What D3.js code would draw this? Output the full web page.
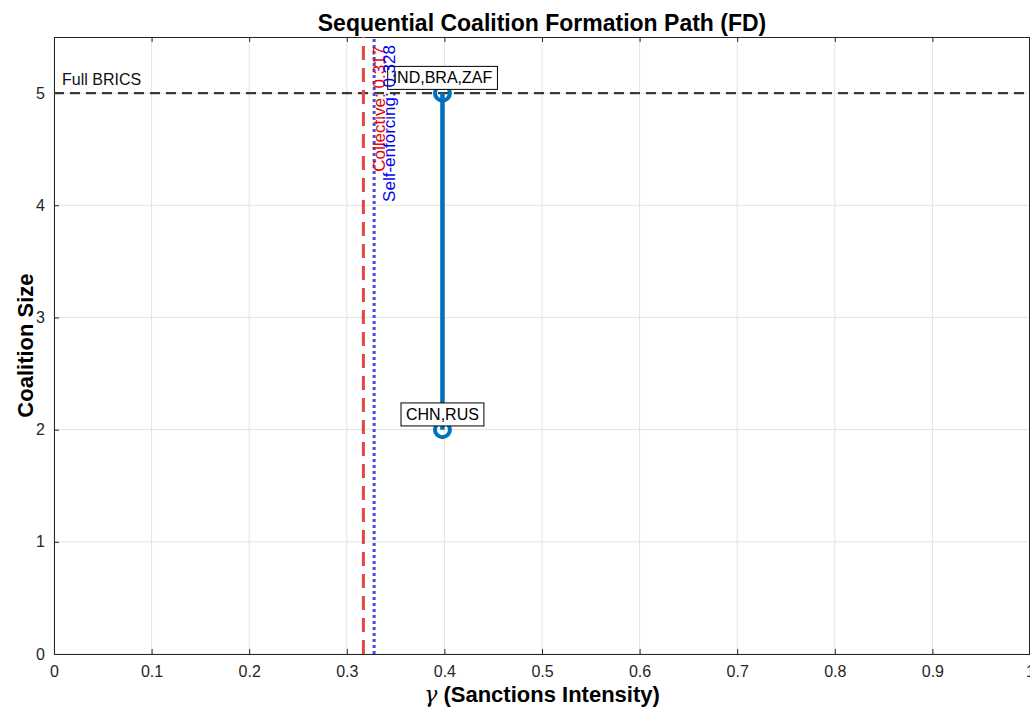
<!DOCTYPE html>
<html>
<head>
<meta charset="utf-8">
<script src="https://cdn.jsdelivr.net/npm/d3@7"></script>
<style>
  body { margin: 0; background: #fff; }
  svg { display: block; font-family: "Liberation Sans", Arial, sans-serif; }
</style>
</head>
<body>
<script>
// data
var pathGamma = [0.398, 0.398];
var pathSize = [2, 5];
var pathLabels = ["CHN,RUS", "IND,BRA,ZAF"];
var collectiveGamma = 0.317;
var selfEnforcingGamma = 0.328;
var fullSize = 5;
var xTicks = [0, 0.1, 0.2, 0.3, 0.4, 0.5, 0.6, 0.7, 0.8, 0.9, 1];
var yTicks = [0, 1, 2, 3, 4, 5];

var width = 1030, height = 711;
var margin = { left: 54, right: 0, top: 37, bottom: 57 };

var svg = d3.select("body").append("svg").attr("width", width).attr("height", height);

var x = d3.scaleLinear().domain([0, 1]).range([margin.left, 1030]);
var y = d3.scaleLinear().domain([0, 5.5]).range([height - margin.bottom, margin.top]);

var axisColor = "#262626";

// grid
var grid = svg.append("g");
grid.selectAll("line.gx").data(xTicks).enter().append("line")
  .attr("x1", d => x(d)).attr("x2", d => x(d))
  .attr("y1", y(0)).attr("y2", y(5.5))
  .attr("stroke", "#e3e3e3").attr("stroke-width", 1);
grid.selectAll("line.gy").data(yTicks).enter().append("line")
  .attr("x1", x(0)).attr("x2", x(1))
  .attr("y1", d => y(d)).attr("y2", d => y(d))
  .attr("stroke", "#e3e3e3").attr("stroke-width", 1);

// axes (ticks inward like matlab)
var xAxis = svg.append("g").attr("transform", "translate(0," + y(0) + ")")
  .call(d3.axisBottom(x).tickValues(xTicks).tickFormat(d3.format("")).tickSizeInner(-5).tickSizeOuter(0).tickPadding(12));
var yAxis = svg.append("g").attr("transform", "translate(" + x(0) + ",0)")
  .call(d3.axisLeft(y).tickValues(yTicks).tickFormat(d3.format("")).tickSizeInner(-5).tickSizeOuter(0).tickPadding(9));
var xTop = svg.append("g").attr("transform", "translate(0," + y(5.5) + ")")
  .call(d3.axisTop(x).tickValues(xTicks).tickSizeInner(-5).tickSizeOuter(0).tickFormat(""));
[xAxis, yAxis, xTop].forEach(function (g) {
  g.selectAll("path").attr("stroke", axisColor).attr("stroke-width", 1);
  g.selectAll("line").attr("stroke", axisColor);
  g.selectAll("text").attr("fill", axisColor).attr("font-size", 16)
    .attr("font-family", "Liberation Sans, Arial, sans-serif");
});
svg.append("line").attr("x1", x(1) - 0.5).attr("x2", x(1) - 0.5)
  .attr("y1", y(0)).attr("y2", y(5.5)).attr("stroke", axisColor);

// full BRICS reference line
svg.append("line")
  .attr("x1", x(0)).attr("x2", x(1))
  .attr("y1", y(fullSize)).attr("y2", y(fullSize))
  .attr("stroke", "#3a3a3a").attr("stroke-width", 2.2).attr("stroke-dasharray", "10,6");
svg.append("text").attr("x", x(0) + 8).attr("y", y(fullSize) - 8)
  .attr("font-size", 16).attr("fill", "#111").text("Full BRICS");

// threshold lines
svg.append("line")
  .attr("x1", x(collectiveGamma)).attr("x2", x(collectiveGamma))
  .attr("y1", y(0)).attr("y2", y(5.5))
  .attr("stroke", "#e84444").attr("stroke-width", 3).attr("stroke-dasharray", "14,8");
svg.append("line")
  .attr("x1", x(selfEnforcingGamma)).attr("x2", x(selfEnforcingGamma))
  .attr("y1", y(0)).attr("y2", y(5.5))
  .attr("stroke", "#4a4ae8").attr("stroke-width", 3).attr("stroke-dasharray", "3,3");

// path
var pts = pathGamma.map((g, i) => ({ g: g, s: pathSize[i], label: pathLabels[i] }));
svg.append("path").datum(pts)
  .attr("d", d3.line().x(d => x(d.g)).y(d => y(d.s)))
  .attr("fill", "none").attr("stroke", "#0072BD").attr("stroke-width", 4.5);
svg.selectAll("circle.pt").data(pts).enter().append("circle")
  .attr("cx", d => x(d.g)).attr("cy", d => y(d.s)).attr("r", 7.5)
  .attr("fill", "none").attr("stroke", "#0072BD").attr("stroke-width", 4);

// labels with boxes
pts.forEach(function (d) {
  var g = svg.append("g");
  var t = g.append("text").attr("x", x(d.g)).attr("y", y(d.s + 0.14) + 6)
    .attr("text-anchor", "middle").attr("font-size", 16).attr("fill", "#000").text(d.label);
  var b = t.node().getBBox();
  g.insert("rect", "text")
    .attr("x", b.x - 5).attr("y", b.y - 3).attr("width", b.width + 10).attr("height", b.height + 6)
    .attr("fill", "#fff").attr("stroke", "#000").attr("stroke-width", 1);
});

// threshold texts (on top of the label boxes)
svg.append("text")
  .attr("transform", "translate(" + (x(collectiveGamma) + 22) + "," + 46 + ") rotate(-90)")
  .attr("text-anchor", "end").attr("font-size", 17).attr("fill", "#ee0000")
  .text("Collective: " + collectiveGamma);
svg.append("text")
  .attr("transform", "translate(" + (x(selfEnforcingGamma) + 21) + "," + 45 + ") rotate(-90)")
  .attr("text-anchor", "end").attr("font-size", 17).attr("fill", "#0000ee")
  .text("Self-enforcing: " + selfEnforcingGamma);

// title and axis labels
svg.append("text").attr("x", (x(0) + x(1)) / 2).attr("y", 31)
  .attr("text-anchor", "middle").attr("font-size", 23).attr("font-weight", "bold").attr("fill", "#000")
  .text("Sequential Coalition Formation Path (FD)");
svg.append("text")
  .attr("transform", "translate(33," + (y(0) + y(5.5)) / 2 + ") rotate(-90)")
  .attr("text-anchor", "middle").attr("font-size", 22).attr("font-weight", "bold").attr("fill", "#000")
  .text("Coalition Size");
var xl = svg.append("text").attr("x", (x(0) + x(1)) / 2).attr("y", 702)
  .attr("text-anchor", "middle").attr("font-size", 22).attr("font-weight", "bold").attr("fill", "#000");
xl.append("tspan").attr("font-style", "italic").attr("font-weight", "normal")
  .attr("font-family", "DejaVu Serif, serif").text("γ");
xl.append("tspan").text(" (Sanctions Intensity)");
</script>
</body>
</html>
